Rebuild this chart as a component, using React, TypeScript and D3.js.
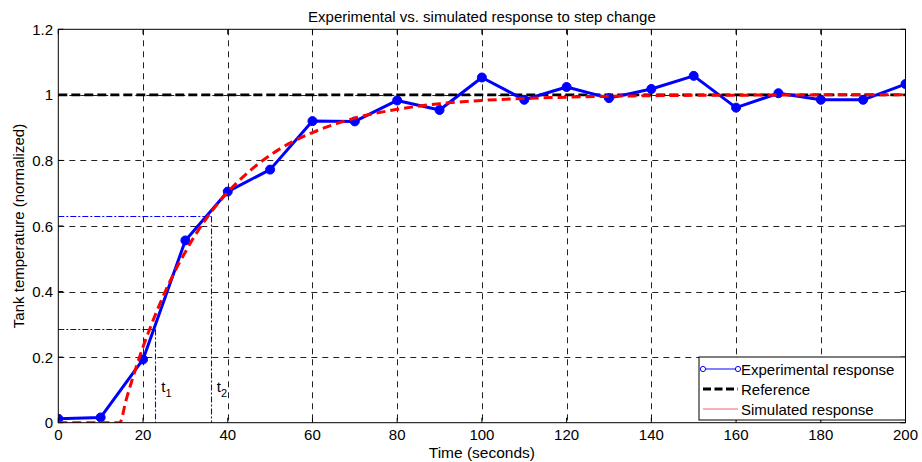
import React from "react";
import * as d3 from "d3";

const expTimes = [0, 10, 20, 30, 40, 50, 60, 70, 80, 90, 100, 110, 120, 130, 140, 150, 160, 170, 180, 190, 200];
const expValues = [0.012, 0.016, 0.193, 0.556, 0.705, 0.772, 0.920, 0.919, 0.983, 0.954, 1.053, 0.985, 1.024, 0.990, 1.018, 1.058, 0.961, 1.005, 0.985, 0.985, 1.033];

const simTimes = [0, 14.5, 16, 18, 20, 22, 25, 28, 30, 33, 36, 40, 45, 50, 55, 60, 70, 80, 90, 100, 110, 120, 140, 160, 180, 200];
const simValues = [0, 0, 0.069, 0.154, 0.231, 0.300, 0.393, 0.474, 0.521, 0.586, 0.641, 0.703, 0.766, 0.816, 0.855, 0.885, 0.929, 0.956, 0.973, 0.983, 0.989, 0.993, 0.9975, 0.999, 1.0, 1.0];

const referenceValue = 1;
const markerTimes = [22.9, 36];
const markerLevels = [0.285, 0.632];
const markerLabels = ["1", "2"];

const xTicks = [0, 20, 40, 60, 80, 100, 120, 140, 160, 180, 200];
const yTicks = [0, 0.2, 0.4, 0.6, 0.8, 1, 1.2];

const titleText = "Experimental vs. simulated response to step change";
const xLabelText = "Time (seconds)";
const yLabelText = "Tank temperature (normalized)";
const legendLabels = ["Experimental response", "Reference", "Simulated response"];

const W = 922, H = 462;
const L = 58.3, R = 905.5, T = 29.3, B = 422.7;
const FONT = "'Liberation Sans', Arial, Helvetica, sans-serif";
const crisp = (v: number) => Math.round(v) + 0.5;

export default function App() {
  const x = d3.scaleLinear().domain([0, 200]).range([L, R]);
  const y = d3.scaleLinear().domain([0, 1.2]).range([B, T]);

  const expData = expTimes.map((t, i) => [t, expValues[i]] as [number, number]);
  const simData = simTimes.map((t, i) => [t, simValues[i]] as [number, number]);

  const lineGen = d3.line<[number, number]>().x(d => x(d[0])).y(d => y(d[1]));
  const simGen = d3.line<[number, number]>().x(d => x(d[0])).y(d => y(d[1])).curve(d3.curveMonotoneX);

  const legX = 699, legY = 357, legW = R - 699, legH = 63;
  const rows = [369, 389, 409];

  return (
    <svg width={W} height={H} style={{ position: "absolute", left: 0, top: 0, background: "#fff" }} fontFamily={FONT}>
      <rect x={0} y={0} width={W} height={H} fill="#fff" />
      <defs>
        <clipPath id="plotclip">
          <rect x={L} y={T} width={R - L} height={B - T} />
        </clipPath>
      </defs>
      {/* grid */}
      {xTicks.slice(1, -1).map(t => (
        <line key={"gx" + t} x1={crisp(x(t))} x2={crisp(x(t))} y1={T} y2={B} stroke="#222" strokeWidth={1} strokeDasharray="6,5" />
      ))}
      {yTicks.slice(1, -1).map(t => (
        <line key={"gy" + t} x1={L} x2={R} y1={crisp(y(t))} y2={crisp(y(t))} stroke="#222" strokeWidth={1} strokeDasharray="6,5" />
      ))}
      {/* ticks */}
      {xTicks.map(t => (
        <g key={"xt" + t}>
          <line x1={x(t)} x2={x(t)} y1={B} y2={B - 5} stroke="#000" strokeWidth={1} />
          <line x1={x(t)} x2={x(t)} y1={T} y2={T + 5} stroke="#000" strokeWidth={1} />
          <text x={x(t)} y={440} fontSize={15} textAnchor="middle" fill="#000">{t}</text>
        </g>
      ))}
      {yTicks.map(t => (
        <g key={"yt" + t}>
          <line x1={L} x2={L + 5} y1={y(t)} y2={y(t)} stroke="#000" strokeWidth={1} />
          <line x1={R} x2={R - 5} y1={y(t)} y2={y(t)} stroke="#000" strokeWidth={1} />
          <text x={53} y={y(t) + 5.5} fontSize={15} textAnchor="end" fill="#000">{t}</text>
        </g>
      ))}
      <g clipPath="url(#plotclip)">
        {/* t1, t2 markers */}
        {markerTimes.map((t, i) => (
          <g key={"m" + i}>
            <line x1={x(0)} x2={crisp(x(t))} y1={crisp(y(markerLevels[i]))} y2={crisp(y(markerLevels[i]))} stroke="#0000ff" strokeWidth={1.1} strokeDasharray="6,2,2,2" />
            <line x1={crisp(x(t))} x2={crisp(x(t))} y1={crisp(y(markerLevels[i]))} y2={y(0)} stroke="#0000ff" strokeWidth={1.1} strokeDasharray="6,2,2,2" />
          </g>
        ))}
        {/* reference */}
        <line x1={x(0)} x2={x(200)} y1={y(referenceValue)} y2={y(referenceValue)} stroke="#000" strokeWidth={2.8} strokeDasharray="9,4" />
        {/* experimental */}
        <path d={lineGen(expData) || ""} fill="none" stroke="#0000ff" strokeWidth={3} strokeLinejoin="round" />
        {expData.map((d, i) => (
          <circle key={"c" + i} cx={x(d[0])} cy={y(d[1])} r={4.5} fill="#0000ff" stroke="#0000ff" strokeWidth={1} />
        ))}
        {/* simulated */}
        <path d={simGen(simData) || ""} fill="none" stroke="#ff0000" strokeWidth={3} strokeDasharray="9,5" />
      </g>
      {/* marker labels */}
      {markerTimes.map((t, i) => (
        <text key={"ml" + i} x={x(t) + 6} y={392} fontSize={15} fill="#000">
          t<tspan fontSize={11} dy={5}>{markerLabels[i]}</tspan>
        </text>
      ))}
      {/* axes box */}
      <rect x={L} y={T} width={R - L} height={B - T} fill="none" stroke="#000" strokeWidth={1} />
      {/* legend */}
      <rect x={legX} y={legY} width={legW} height={legH} fill="#fff" stroke="#000" strokeWidth={1} />
      <line x1={703} x2={738} y1={rows[0]} y2={rows[0]} stroke="#0000ff" strokeWidth={1} />
      <circle cx={703} cy={rows[0]} r={2.6} fill="#fff" stroke="#0000ff" strokeWidth={1} />
      <circle cx={738} cy={rows[0]} r={2.6} fill="#fff" stroke="#0000ff" strokeWidth={1} />
      <line x1={703} x2={738} y1={rows[1]} y2={rows[1]} stroke="#000" strokeWidth={2.8} strokeDasharray="8,3.5" />
      <line x1={703} x2={738} y1={rows[2]} y2={rows[2]} stroke="#ff6060" strokeWidth={1.2} />
      {legendLabels.map((lab, i) => (
        <text key={"lg" + i} x={741} y={rows[i] + 5.5} fontSize={15} fill="#000">{lab}</text>
      ))}
      {/* title & labels */}
      <text x={(L + R) / 2} y={22} fontSize={15} textAnchor="middle" fill="#000">{titleText}</text>
      <text x={(L + R) / 2} y={458} fontSize={15.5} textAnchor="middle" fill="#000">{xLabelText}</text>
      <text transform={`translate(24,${(T + B) / 2}) rotate(-90)`} fontSize={15} textAnchor="middle" fill="#000">{yLabelText}</text>
    </svg>
  );
}
